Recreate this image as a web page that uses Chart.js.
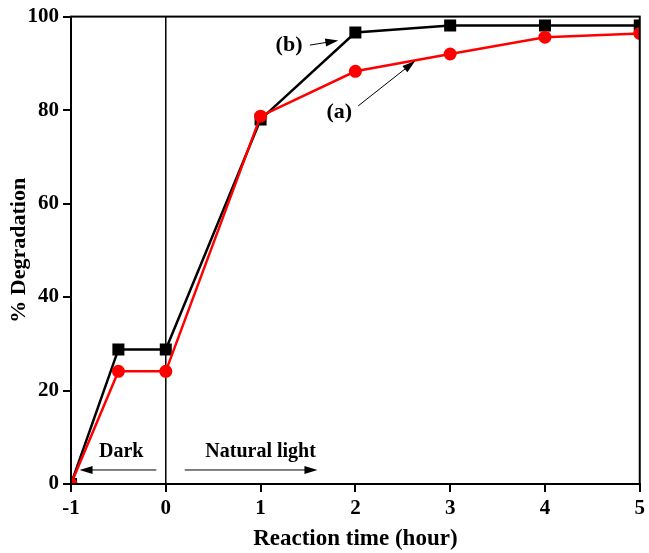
<!DOCTYPE html>
<html>
<head>
<meta charset="utf-8">
<script src="https://cdn.jsdelivr.net/npm/chart.js@4/dist/chart.umd.min.js"></script>
<style>
  html, body { margin: 0; padding: 0; background: #fff; }
  #wrap { width: 649px; height: 553px; }
</style>
</head>
<body>
<div id="wrap"><canvas id="degChart"></canvas></div>
<script>
// reaction time (hour), negative = dark period
const times = [-1, -0.5, 0, 1, 2, 3, 4, 5];
const seriesA = [0, 24.1, 24.1, 78.7, 88.3, 92.0, 95.6, 96.4]; // red (a)
const seriesB = [0, 28.8, 28.8, 78.0, 96.6, 98.1, 98.1, 98.1]; // black (b)
const xTicks = [-1, 0, 1, 2, 3, 4, 5];
const yTicks = [0, 20, 40, 60, 80, 100];

const FONT = '"Liberation Serif", "Times New Roman", serif';

function toPoints(ys) {
    return times.map((t, i) => ({ x: t, y: ys[i] }));
}

function arrow(ctx, x1, y1, x2, y2) {
    const a = Math.atan2(y2 - y1, x2 - x1);
    const len = 13, w = 4;
    ctx.beginPath();
    ctx.moveTo(x1, y1);
    ctx.lineTo(x2 - Math.cos(a) * len * 0.8, y2 - Math.sin(a) * len * 0.8);
    ctx.stroke();
    ctx.beginPath();
    ctx.moveTo(x2, y2);
    ctx.lineTo(x2 - Math.cos(a) * len - Math.sin(a) * w, y2 - Math.sin(a) * len + Math.cos(a) * w);
    ctx.lineTo(x2 - Math.cos(a) * len + Math.sin(a) * w, y2 - Math.sin(a) * len - Math.cos(a) * w);
    ctx.closePath();
    ctx.fill();
}

const extras = {
    id: 'extras',
    beforeDatasetsDraw(chart) {
        const { ctx, chartArea: ca, scales: { x } } = chart;
        ctx.save();
        ctx.strokeStyle = '#000';
        ctx.lineWidth = 1.5;
        // divider between dark and light
        const x0 = x.getPixelForValue(0);
        ctx.beginPath();
        ctx.moveTo(x0, ca.top);
        ctx.lineTo(x0, ca.bottom);
        ctx.stroke();
        ctx.restore();
    },
    afterDraw(chart) {
        const { ctx, chartArea: ca, scales: { x, y } } = chart;
        ctx.save();
        // frame
        ctx.strokeStyle = '#000';
        ctx.lineWidth = 2;
        ctx.strokeRect(ca.left, ca.top, ca.right - ca.left, ca.bottom - ca.top);

        ctx.fillStyle = '#000';
        ctx.font = 'bold 20px ' + FONT;
        ctx.textAlign = 'center';
        ctx.textBaseline = 'middle';
        ctx.fillText('Dark', x.getPixelForValue(-0.47), y.getPixelForValue(6.9));
        ctx.fillText('Natural light', x.getPixelForValue(1.0), y.getPixelForValue(6.9));
        ctx.font = 'bold 22px ' + FONT;
        ctx.fillText('(b)', x.getPixelForValue(1.3), y.getPixelForValue(93.8));
        ctx.fillText('(a)', x.getPixelForValue(1.83), y.getPixelForValue(79.6));

        ctx.lineWidth = 1;
        arrow(ctx, x.getPixelForValue(-0.1), y.getPixelForValue(3.0), x.getPixelForValue(-0.91), y.getPixelForValue(3.0));
        arrow(ctx, x.getPixelForValue(0.2), y.getPixelForValue(3.0), x.getPixelForValue(1.6), y.getPixelForValue(3.0));
        arrow(ctx, x.getPixelForValue(1.52), y.getPixelForValue(93.9), x.getPixelForValue(1.82), y.getPixelForValue(94.9));
        arrow(ctx, x.getPixelForValue(2.03), y.getPixelForValue(80.9), x.getPixelForValue(2.63), y.getPixelForValue(90.5));
        ctx.restore();
    }
};

new Chart(document.getElementById('degChart'), {
    type: 'line',
    data: {
        datasets: [{
            label: '(a)',
            data: toPoints(seriesA),
            borderColor: '#ff0000',
            backgroundColor: '#ff0000',
            borderWidth: 2.5,
            pointStyle: 'circle',
            pointRadius: 6.5,
            pointBorderWidth: 0,
            tension: 0,
            order: 0
        }, {
            label: '(b)',
            data: toPoints(seriesB),
            borderColor: '#000000',
            backgroundColor: '#000000',
            borderWidth: 2.5,
            pointStyle: 'rect',
            pointRadius: 8.5,
            pointBorderWidth: 0,
            tension: 0,
            order: 1
        }]
    },
    options: {
        responsive: true,
        maintainAspectRatio: false,
        animation: false,
        layout: { padding: { top: 15, right: 6, left: 0, bottom: 0 } },
        plugins: {
            legend: { display: false },
            tooltip: { enabled: false }
        },
        scales: {
            x: {
                type: 'linear',
                min: -1,
                max: 5,
                afterBuildTicks(axis) { axis.ticks = xTicks.map(v => ({ value: v })); },
                afterFit(axis) { axis.height = 69; },
                grid: { drawOnChartArea: false, color: '#000', lineWidth: 2, tickLength: 8 },
                border: { color: '#000', width: 2 },
                ticks: { color: '#000', font: { family: FONT, size: 21, weight: 'bold' }, padding: 4 },
                title: {
                    display: true,
                    text: 'Reaction time (hour)',
                    color: '#000',
                    font: { family: FONT, size: 23, weight: 'bold' },
                    padding: { top: 0, bottom: 0 }
                }
            },
            y: {
                min: 0,
                max: 100,
                afterBuildTicks(axis) { axis.ticks = yTicks.map(v => ({ value: v })); },
                afterFit(axis) { axis.width = 71; },
                grid: { drawOnChartArea: false, color: '#000', lineWidth: 2, tickLength: 8 },
                border: { color: '#000', width: 2 },
                ticks: { color: '#000', font: { family: FONT, size: 21, weight: 'bold' }, padding: 4 },
                title: {
                    display: true,
                    text: '% Degradation',
                    color: '#000',
                    font: { family: FONT, size: 22, weight: 'bold' },
                    padding: { top: 6, bottom: 0 }
                }
            }
        }
    },
    plugins: [extras]
});
</script>
</body>
</html>
